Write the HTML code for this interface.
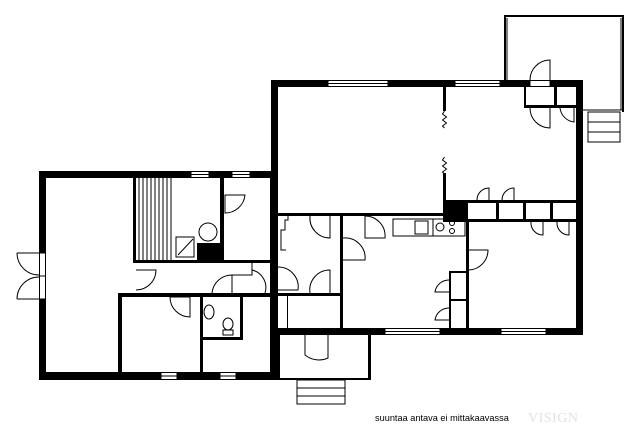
<!DOCTYPE html>
<html><head><style>body{margin:0;background:#fff}svg{display:block}</style></head><body>
<svg width="640" height="440" viewBox="0 0 640 440" xmlns="http://www.w3.org/2000/svg">
<rect width="640" height="440" fill="#fff"/>
<g fill="#000">
<rect x="39" y="171" width="239" height="7"/>
<rect x="39" y="171" width="7" height="209"/>
<rect x="39" y="372" width="239" height="8"/>
<rect x="270" y="171" width="8" height="209"/>
<rect x="271" y="80" width="312" height="7"/>
<rect x="271" y="80" width="7" height="140"/>
<rect x="576" y="80" width="7" height="255"/>
<rect x="271" y="328" width="312" height="7"/>
<rect x="278" y="213" width="165" height="3"/>
<rect x="443" y="87" width="3" height="24"/>
<rect x="443" y="173" width="3" height="30"/>
<rect x="443" y="200" width="25" height="22"/>
<rect x="468" y="200" width="108" height="3"/>
<rect x="468" y="219" width="108" height="3"/>
<rect x="496" y="200" width="3" height="22"/>
<rect x="523" y="200" width="3" height="22"/>
<rect x="550" y="200" width="3" height="22"/>
<rect x="340" y="213" width="3" height="118"/>
<rect x="466" y="219" width="3" height="112"/>
<rect x="449" y="271" width="17" height="2"/>
<rect x="449" y="271" width="2" height="58"/>
<rect x="449" y="299" width="17" height="2"/>
<rect x="278" y="293" width="65" height="3"/>
<rect x="287" y="296" width="1" height="32"/>
<rect x="524" y="87" width="2" height="20"/>
<rect x="524" y="105" width="52" height="3"/>
<rect x="554" y="87" width="3" height="20"/>
<rect x="278" y="335" width="2" height="45"/>
<rect x="278" y="378" width="93" height="2"/>
<rect x="368" y="335" width="3" height="45"/>
<rect x="133" y="178" width="3" height="85"/>
<rect x="133" y="260" width="137" height="3"/>
<rect x="220" y="178" width="4" height="85"/>
<rect x="197" y="243" width="25" height="19"/>
<rect x="118" y="293" width="155" height="4"/>
<rect x="118" y="293" width="4" height="82"/>
<rect x="200" y="293" width="3" height="82"/>
<rect x="200" y="337" width="42" height="3"/>
<rect x="240" y="297" width="3" height="43"/>
</g>
<g stroke="#000" stroke-width="1">
<line x1="139" y1="178" x2="139" y2="260"/><line x1="143" y1="178" x2="143" y2="260"/>
<line x1="147" y1="178" x2="147" y2="260"/><line x1="151" y1="178" x2="151" y2="260"/>
<line x1="155" y1="178" x2="155" y2="260"/><line x1="159" y1="178" x2="159" y2="260"/>
<line x1="163" y1="178" x2="163" y2="260"/><line x1="167" y1="178" x2="167" y2="260"/>
<line x1="171" y1="178" x2="171" y2="260"/>
</g>
<g fill="none" stroke="#000" stroke-width="1">
<rect x="176" y="237" width="18" height="20"/>
<line x1="178" y1="255" x2="193" y2="239"/>
<circle cx="208" cy="232" r="9"/>
<ellipse cx="209" cy="312" rx="5" ry="7"/>
<ellipse cx="228" cy="324" rx="5" ry="6"/>
<rect x="223" y="330" width="10" height="5"/>
<rect x="393" y="219" width="72" height="17"/>
<rect x="415" y="221" width="13" height="13"/>
<circle cx="440" cy="227" r="4"/><circle cx="452" cy="223" r="2.5"/><circle cx="452" cy="231" r="2.5"/>
<line x1="433" y1="219" x2="433" y2="236"/>
<path d="M444.5 111 l-2 3 4 3 -4 3 4 3 -4 3 2 2"/>
<path d="M444.5 157 l-2 3 4 3 -4 3 4 3 -4 3 2 2"/>
<path d="M288 216 v4 h-3 v10 h-4 v20 h5"/>
<!-- deck (open bottom) -->
<path d="M505 80 V16 H623 V112" stroke-width="2"/>
<line x1="507" y1="18" x2="507" y2="80"/>
<line x1="621" y1="18" x2="621" y2="110"/>
<line x1="583" y1="110" x2="623" y2="110"/>
<rect x="588" y="112" width="32" height="30"/>
<line x1="588" y1="122" x2="620" y2="122"/><line x1="588" y1="132" x2="620" y2="132"/>
<rect x="297" y="380" width="48" height="24"/>
<line x1="297" y1="388" x2="345" y2="388"/><line x1="297" y1="396" x2="345" y2="396"/>
<!-- doors -->
<path d="M17 253 H39 M17 253 A22 22 0 0 0 39 275"/>
<path d="M17 299 H39 M17 299 A22 22 0 0 1 39 277"/>
<path d="M225 195 H245 A20 20 0 0 1 225 213 Z"/>
<path d="M136 270 H156 A20 20 0 0 1 136 290"/>
<path d="M170 297 H190 V317 A20 20 0 0 1 170 297"/>
<path d="M212 293 A20 20 0 0 1 232 275 V293"/>
<path d="M232 275 H252 V262 M252 270 A18 18 0 0 1 265 293"/>
<path d="M278 267 A20 20 0 0 1 298 290 H278"/>
<path d="M310 293 A20 20 0 0 1 330 270 V293"/>
<path d="M310 216 A20 20 0 0 0 330 238 V216"/>
<path d="M343 238 A20 20 0 0 1 365 260 H343"/>
<path d="M365 216 A20 20 0 0 1 385 238 H365 V216"/>
<path d="M305 335 V355 A22 22 0 0 0 328 358 V335"/>
<path d="M469 250 H488 A20 20 0 0 1 469 270"/>
<path d="M449 280 A14 14 0 0 0 435 292 H449"/>
<path d="M449 308 A14 14 0 0 0 435 320 H449"/>
<path d="M477 200 A12 12 0 0 1 489 188 V200 M502 200 A12 12 0 0 1 514 188 V200"/>
<path d="M531 222 A12 12 0 0 0 543 235 V222 M557 222 A12 12 0 0 0 569 235 V222"/>
<path d="M550 80 V60 A20 20 0 0 0 530 80 M530 108 A20 20 0 0 0 550 128 V108"/>
<path d="M560 108 A16 16 0 0 0 574 122 V108"/>
</g>
<g fill="#fff" stroke="#000" stroke-width="1">
<rect x="191" y="171.5" width="18" height="6"/><rect x="232" y="171.5" width="18" height="6"/>
<rect x="161" y="372.5" width="16" height="7"/><rect x="220" y="372.5" width="16" height="7"/>
<rect x="328" y="80.5" width="60" height="6"/><rect x="455" y="80.5" width="45" height="6"/>
<rect x="385" y="328.5" width="55" height="6"/><rect x="501" y="328.5" width="45" height="6"/>
<rect x="39.5" y="253" width="6" height="46"/>
<rect x="530" y="80.5" width="20" height="6"/>
</g>
<g stroke="#000" stroke-width="1">
<line x1="191" y1="174.5" x2="209" y2="174.5"/><line x1="232" y1="174.5" x2="250" y2="174.5"/>
<line x1="161" y1="376" x2="177" y2="376"/><line x1="220" y1="376" x2="236" y2="376"/>
<line x1="328" y1="83.5" x2="388" y2="83.5"/><line x1="455" y1="83.5" x2="500" y2="83.5"/>
<line x1="385" y1="331.5" x2="440" y2="331.5"/><line x1="501" y1="331.5" x2="546" y2="331.5"/>
<line x1="39.5" y1="276" x2="45.5" y2="276"/>
</g>
<text x="375" y="421" font-family="Liberation Sans, sans-serif" font-size="9.2" fill="#000">suuntaa antava ei mittakaavassa</text>
<text x="528" y="422" font-family="Liberation Serif, serif" font-size="14" fill="#e2e2e2" letter-spacing="0.5">VISIGN</text>
</svg>
</body></html>
